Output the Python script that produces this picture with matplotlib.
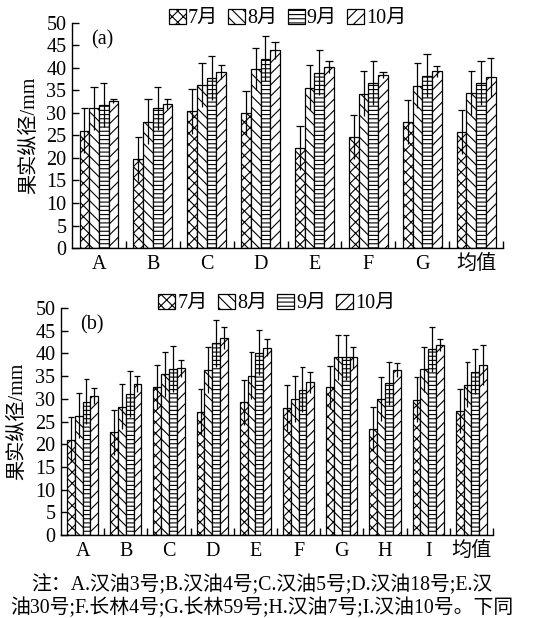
import numpy as np
import matplotlib
matplotlib.use("Agg")
import matplotlib.pyplot as plt
from matplotlib.patches import Patch

plt.rcParams['font.family'] = ['Liberation Serif', 'Noto Sans CJK SC', 'DejaVu Sans']
plt.rcParams['hatch.linewidth'] = 0.8
plt.rcParams['axes.linewidth'] = 1.0

months = ['7月', '8月', '9月', '10月']
hatches = ['xxx', '\\\\\\', '----', '///']

cats_a = ['A', 'B', 'C', 'D', 'E', 'F', 'G', '均值']
mean_a_jul = [26.0, 19.7, 30.4, 30.0, 22.3, 24.6, 27.9, 25.8]
mean_a_aug = [31.0, 28.0, 36.2, 39.7, 35.6, 34.3, 36.0, 34.4]
mean_a_sep = [31.8, 31.0, 37.8, 42.0, 38.9, 36.6, 38.3, 36.6]
mean_a_oct = [32.6, 32.0, 39.1, 43.9, 40.2, 38.4, 39.3, 37.9]
err_a_jul = [5.0, 4.9, 5.0, 4.8, 4.9, 4.9, 4.9, 4.9]
err_a_aug = [4.8, 5.0, 4.9, 4.7, 5.0, 5.0, 5.0, 4.9]
err_a_sep = [4.9, 4.8, 4.9, 5.0, 5.0, 4.9, 4.8, 4.9]
err_a_oct = [0.4, 1.2, 1.6, 1.9, 1.4, 0.7, 1.2, 4.3]

cats_b = ['A', 'B', 'C', 'D', 'E', 'F', 'G', 'H', 'I', '均值']
mean_b_jul = [21.0, 22.6, 32.6, 27.2, 29.2, 28.0, 32.5, 23.3, 29.8, 27.3]
mean_b_aug = [26.3, 28.3, 35.4, 36.3, 35.1, 30.0, 39.1, 30.0, 36.5, 33.1]
mean_b_sep = [29.4, 31.1, 36.6, 42.2, 40.2, 32.0, 39.1, 33.4, 40.9, 36.0]
mean_b_oct = [30.6, 33.2, 36.7, 43.4, 41.3, 33.6, 39.1, 36.3, 41.9, 37.4]
err_b_jul = [5.0, 4.9, 4.9, 5.0, 5.0, 5.0, 4.8, 4.9, 4.9, 4.9]
err_b_aug = [4.9, 4.9, 5.0, 5.1, 5.2, 5.1, 5.0, 4.8, 4.9, 4.9]
err_b_sep = [5.0, 5.0, 5.0, 5.1, 5.0, 5.0, 5.0, 4.7, 4.9, 4.9]
err_b_oct = [1.8, 1.8, 1.9, 2.4, 1.9, 2.3, 2.3, 1.5, 1.3, 4.4]

note_line1 = '注：A.汉油3号;B.汉油4号;C.汉油5号;D.汉油18号;E.汉'
note_line2 = '油30号;F.长林4号;G.长林59号;H.汉油7号;I.汉油10号。下同'

fig = plt.figure(figsize=(5.48, 6.18), dpi=100)
FS = 14.5


def draw_panel(rect, cats, means, errs, tag, legend_x, ylab_x):
    ax = fig.add_axes(rect)
    n = len(cats)
    x = np.arange(n)
    w = 0.18
    for i in range(4):
        xs = x + (i - 1.5) * w
        ax.bar(xs, means[i], width=w, facecolor='white', edgecolor='black',
               hatch=hatches[i], linewidth=0.9, zorder=2)
        m = np.array(means[i]); e = np.array(errs[i])
        ax.vlines(xs, m - e, m + e, colors='black', linewidth=0.9, zorder=3)
        ax.hlines(m + e, xs - w * 0.38, xs + w * 0.38, colors='black',
                  linewidth=0.9, zorder=3)
    ax.set_xlim(-0.5, n - 0.5)
    ax.set_ylim(0, 50)
    ax.set_yticks(np.arange(0, 51, 5))
    ax.set_xticks(x)
    ax.set_xticklabels(cats)
    ax.set_xticks(np.arange(0.5, n, 1.0), minor=True)
    ax.tick_params(axis='x', which='major', length=0, pad=5, labelsize=FS)
    ax.tick_params(axis='x', which='minor', direction='in', length=5, width=1)
    ax.tick_params(axis='y', direction='in', length=5, width=1, labelsize=FS, pad=4)
    for s in ['top', 'right']:
        ax.spines[s].set_visible(False)
    ax.set_ylabel('果实纵径/mm', fontsize=FS)
    ax.yaxis.set_label_coords(ylab_x, 0.5)
    ax.text(0.045, 0.925, tag, transform=ax.transAxes, fontsize=FS,
            ha='left', va='center')
    handles = [Patch(facecolor='white', edgecolor='black', hatch=hatches[i],
                     linewidth=0.9, label=months[i]) for i in range(4)]
    ax.legend(handles=handles, loc='center', bbox_to_anchor=(legend_x, 1.02),
              ncol=4, frameon=False, fontsize=FS, handlelength=0.85,
              handleheight=0.75, handletextpad=0.1, columnspacing=0.5,
              borderaxespad=0, borderpad=0)
    return ax


draw_panel([0.1314, 0.5987, 0.7866, 0.3641], cats_a,
           [mean_a_jul, mean_a_aug, mean_a_sep, mean_a_oct],
           [err_a_jul, err_a_aug, err_a_sep, err_a_oct], '(a)', 0.50,
           (39 - 72) / 431)
draw_panel([0.1113, 0.1343, 0.7883, 0.3673], cats_b,
           [mean_b_jul, mean_b_aug, mean_b_sep, mean_b_oct],
           [err_b_jul, err_b_aug, err_b_sep, err_b_oct], '(b)', 0.50,
           (27 - 61) / 432)

fig.text(262 / 548, 1 - 585 / 618, note_line1, ha='center', va='center', fontsize=14.3)
fig.text(262 / 548, 1 - 608 / 618, note_line2, ha='center', va='center', fontsize=14.3)

fig.savefig('out.png', dpi=100)
